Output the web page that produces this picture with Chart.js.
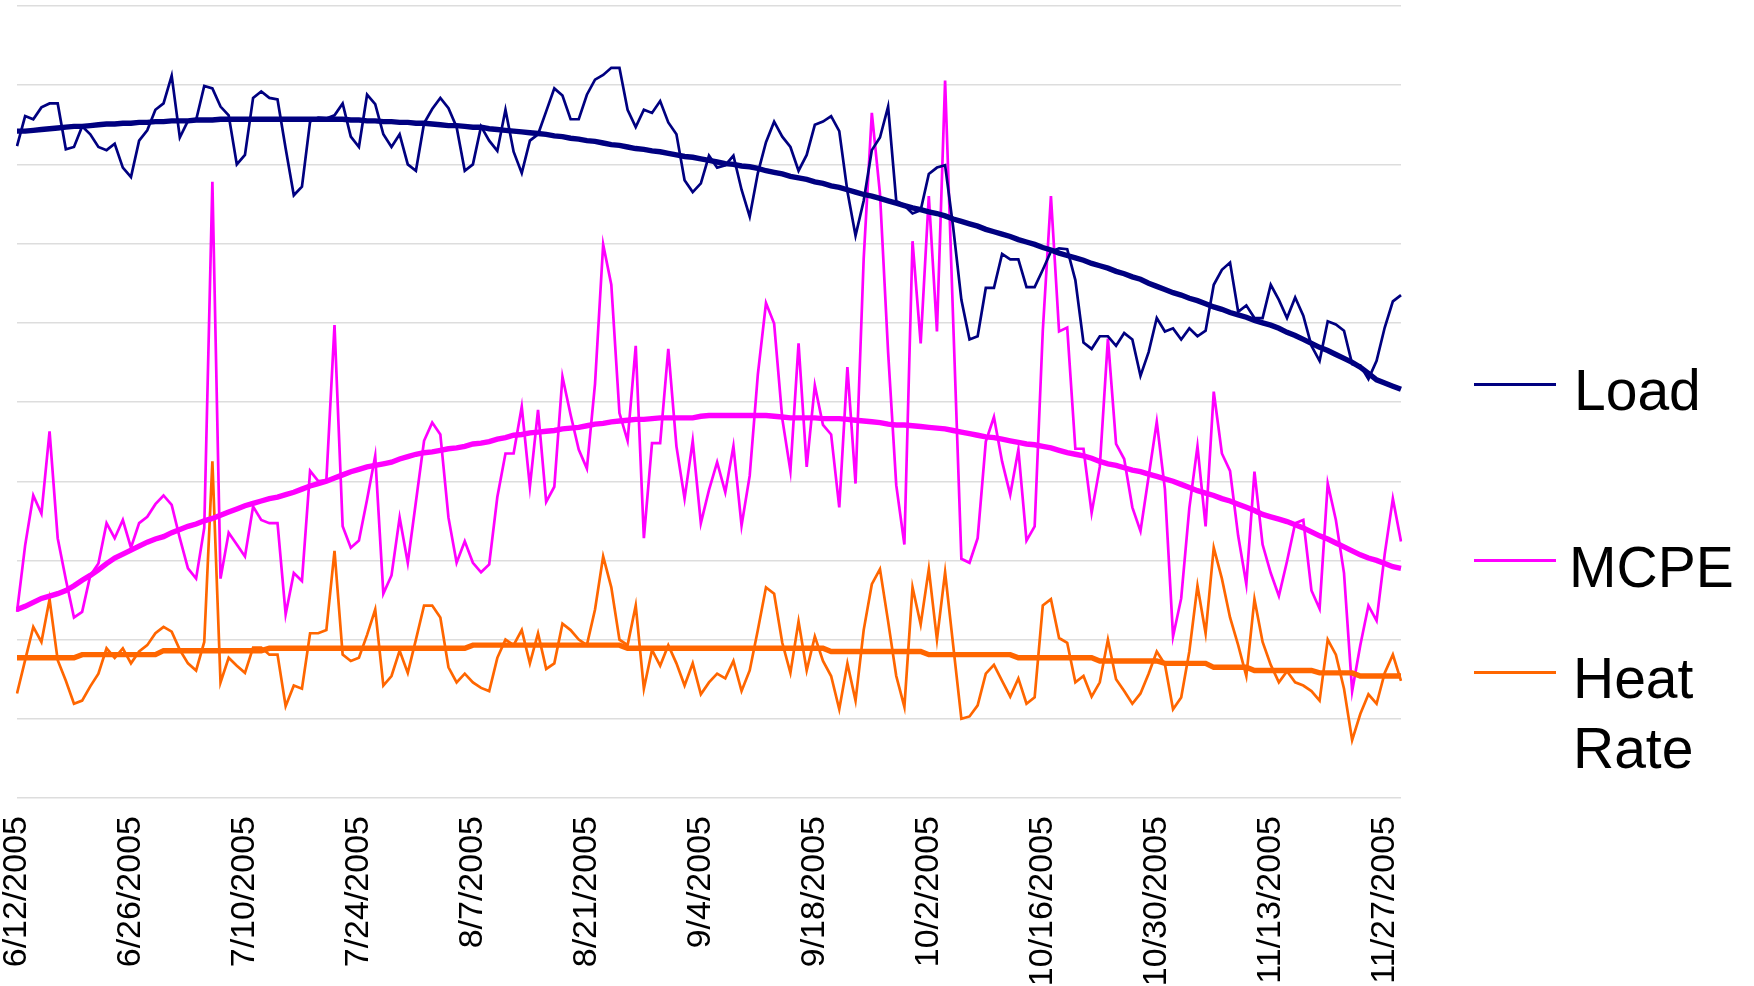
<!DOCTYPE html>
<html>
<head>
<meta charset="utf-8">
<title>Load, MCPE and Heat Rate</title>
<script src="https://cdn.jsdelivr.net/npm/chart.js@4.4.1/dist/chart.umd.min.js"></script>
<style>
  html, body { margin: 0; padding: 0; background: #fff; }
  #wrap { position: relative; width: 1754px; height: 986px; }
  .leg-line { position: absolute; left: 1474px; width: 82px; height: 3px; }
  .leg-text { position: absolute; font-family: 'Liberation Sans', Arial, sans-serif; font-size: 57px; line-height: 70px; color: #000; white-space: nowrap; }
</style>
</head>
<body>
<div id="wrap">
  <canvas id="chart"></canvas>
</div>
<script>
// daily values, 6/12/2005 .. 11/29/2005
const load = [
  8.23, 8.61, 8.57, 8.72, 8.77, 8.77, 8.19, 8.22, 8.48, 8.38,
  8.22, 8.18, 8.26, 7.96, 7.84, 8.30, 8.43, 8.69, 8.77, 9.12,
  8.34, 8.55, 8.56, 8.99, 8.96, 8.73, 8.62, 8.00, 8.12, 8.84,
  8.92, 8.84, 8.82, 8.20, 7.61, 7.72, 8.54, 8.59, 8.58, 8.62,
  8.77, 8.35, 8.22, 8.88, 8.76, 8.38, 8.22, 8.38, 8.00, 7.92,
  8.52, 8.70, 8.84, 8.71, 8.47, 7.92, 8.00, 8.48, 8.30, 8.17,
  8.69, 8.16, 7.89, 8.30, 8.38, 8.67, 8.96, 8.87, 8.57, 8.57,
  8.88, 9.07, 9.13, 9.22, 9.22, 8.69, 8.47, 8.69, 8.65, 8.80,
  8.53, 8.38, 7.80, 7.65, 7.76, 8.11, 7.96, 7.99, 8.11, 7.68,
  7.34, 7.89, 8.28, 8.54, 8.35, 8.22, 7.92, 8.12, 8.50, 8.54,
  8.61, 8.42, 7.66, 7.10, 7.54, 8.18, 8.34, 8.73, 7.54, 7.48,
  7.38, 7.42, 7.88, 7.96, 7.99, 7.20, 6.29, 5.79, 5.83, 6.44,
  6.44, 6.87, 6.80, 6.80, 6.45, 6.45, 6.67, 6.90, 6.94, 6.93,
  6.54, 5.75, 5.67, 5.83, 5.83, 5.71, 5.87, 5.79, 5.33, 5.63,
  6.06, 5.89, 5.93, 5.79, 5.93, 5.83, 5.90, 6.48, 6.67, 6.76,
  6.14, 6.22, 6.06, 6.06, 6.48, 6.29, 6.06, 6.32, 6.09, 5.71,
  5.52, 6.02, 5.98, 5.90, 5.48, 5.46, 5.29, 5.52, 5.94, 6.27,
  6.35
];
const mcpe = [
  2.35, 3.19, 3.82, 3.59, 4.63, 3.28, 2.76, 2.28, 2.35, 2.81,
  2.96, 3.47, 3.28, 3.51, 3.16, 3.47, 3.55, 3.71, 3.82, 3.70,
  3.28, 2.90, 2.77, 3.41, 7.78, 2.77, 3.35, 3.20, 3.05, 3.68,
  3.51, 3.47, 3.47, 2.32, 2.84, 2.74, 4.13, 4.00, 4.01, 5.97,
  3.43, 3.16, 3.25, 3.77, 4.32, 2.58, 2.81, 3.54, 2.97, 3.74,
  4.51, 4.74, 4.59, 3.54, 2.97, 3.24, 2.97, 2.85, 2.95, 3.80,
  4.35, 4.35, 4.94, 3.93, 4.90, 3.74, 3.93, 5.32, 4.84, 4.40,
  4.16, 5.23, 6.99, 6.48, 4.86, 4.51, 5.71, 3.28, 4.48, 4.48,
  5.67, 4.44, 3.78, 4.51, 3.47, 3.89, 4.24, 3.86, 4.44, 3.44,
  4.07, 5.35, 6.25, 5.99, 4.79, 4.13, 5.74, 4.18, 5.21, 4.71,
  4.59, 3.67, 5.44, 3.97, 6.81, 8.65, 7.63, 5.63, 3.95, 3.20,
  7.03, 5.74, 7.60, 5.89, 9.06, 6.00, 3.02, 2.97, 3.28, 4.50,
  4.81, 4.25, 3.83, 4.40, 3.25, 3.43, 5.90, 7.60, 5.89, 5.94,
  4.41, 4.41, 3.60, 4.18, 5.80, 4.47, 4.28, 3.67, 3.37, 4.06,
  4.75, 3.90, 2.04, 2.52, 3.66, 4.44, 3.43, 5.13, 4.35, 4.13,
  3.31, 2.70, 4.12, 3.20, 2.84, 2.55, 2.99, 3.47, 3.51, 2.62,
  2.39, 3.97, 3.51, 2.84, 1.35, 1.93, 2.43, 2.24, 3.08, 3.78,
  3.24
];
const heatRate = [
  1.32, 1.74, 2.16, 1.97, 2.51, 1.74, 1.48, 1.19, 1.23, 1.41,
  1.57, 1.89, 1.77, 1.89, 1.70, 1.85, 1.93, 2.08, 2.16, 2.10,
  1.87, 1.70, 1.61, 1.97, 4.25, 1.46, 1.77, 1.67, 1.58, 1.90,
  1.90, 1.81, 1.81, 1.16, 1.42, 1.38, 2.08, 2.08, 2.12, 3.12,
  1.81, 1.73, 1.77, 2.06, 2.38, 1.42, 1.54, 1.86, 1.58, 2.00,
  2.43, 2.43, 2.28, 1.65, 1.46, 1.57, 1.46, 1.39, 1.35, 1.77,
  2.00, 1.93, 2.12, 1.70, 2.08, 1.63, 1.70, 2.20, 2.12, 2.00,
  1.93, 2.38, 3.05, 2.66, 2.00, 1.93, 2.43, 1.38, 1.87, 1.67,
  1.93, 1.70, 1.42, 1.70, 1.31, 1.46, 1.57, 1.51, 1.73, 1.35,
  1.61, 2.12, 2.66, 2.58, 1.96, 1.58, 2.23, 1.61, 2.04, 1.73,
  1.54, 1.12, 1.70, 1.23, 2.12, 2.70, 2.89, 2.23, 1.54, 1.15,
  2.66, 2.19, 2.89, 2.00, 2.85, 1.92, 1.00, 1.03, 1.17, 1.57,
  1.68, 1.48, 1.28, 1.51, 1.19, 1.27, 2.43, 2.51, 2.02, 1.96,
  1.46, 1.54, 1.28, 1.46, 2.00, 1.50, 1.35, 1.19, 1.32, 1.57,
  1.85, 1.69, 1.12, 1.27, 1.85, 2.68, 2.08, 3.16, 2.77, 2.28,
  1.93, 1.54, 2.51, 1.97, 1.68, 1.46, 1.60, 1.46, 1.42, 1.35,
  1.23, 2.00, 1.81, 1.38, 0.73, 1.06, 1.31, 1.19, 1.58, 1.81,
  1.48
];

// trend lines (thick)
const loadTrend = [
  8.42, 8.42, 8.43, 8.44, 8.45, 8.46, 8.47, 8.48, 8.48, 8.49,
  8.50, 8.51, 8.51, 8.52, 8.52, 8.53, 8.53, 8.54, 8.54, 8.55,
  8.55, 8.55, 8.56, 8.56, 8.56, 8.57, 8.57, 8.57, 8.57, 8.57,
  8.57, 8.57, 8.57, 8.57, 8.57, 8.57, 8.57, 8.57, 8.57, 8.57,
  8.57, 8.56, 8.56, 8.55, 8.55, 8.54, 8.54, 8.53, 8.53, 8.52,
  8.52, 8.51, 8.50, 8.49, 8.49, 8.48, 8.47, 8.47, 8.45, 8.44,
  8.43, 8.42, 8.41, 8.40, 8.39, 8.38, 8.36, 8.35, 8.33, 8.32,
  8.30, 8.29, 8.27, 8.25, 8.24, 8.22, 8.20, 8.19, 8.17, 8.16,
  8.14, 8.12, 8.10, 8.09, 8.07, 8.05, 8.03, 8.01, 8.00, 7.98,
  7.97, 7.95, 7.92, 7.90, 7.88, 7.85, 7.83, 7.81, 7.78, 7.76,
  7.73, 7.71, 7.68, 7.65, 7.62, 7.60, 7.57, 7.54, 7.51, 7.48,
  7.45, 7.43, 7.40, 7.38, 7.35, 7.31, 7.28, 7.25, 7.22, 7.18,
  7.15, 7.12, 7.09, 7.05, 7.02, 6.99, 6.95, 6.92, 6.88, 6.85,
  6.82, 6.79, 6.75, 6.72, 6.69, 6.65, 6.62, 6.58, 6.55, 6.50,
  6.46, 6.42, 6.38, 6.35, 6.31, 6.28, 6.24, 6.20, 6.17, 6.13,
  6.10, 6.07, 6.03, 6.00, 5.97, 5.93, 5.88, 5.84, 5.79, 5.74,
  5.69, 5.65, 5.60, 5.55, 5.50, 5.44, 5.36, 5.28, 5.24, 5.20,
  5.16
];
const mcpeTrend = [
  2.38, 2.42, 2.47, 2.52, 2.55, 2.58, 2.62, 2.68, 2.75, 2.81,
  2.88, 2.96, 3.03, 3.08, 3.13, 3.18, 3.23, 3.27, 3.30, 3.35,
  3.39, 3.43, 3.46, 3.50, 3.53, 3.57, 3.61, 3.65, 3.69, 3.72,
  3.75, 3.78, 3.80, 3.83, 3.86, 3.90, 3.94, 3.97, 4.00, 4.04,
  4.08, 4.12, 4.15, 4.18, 4.20, 4.22, 4.24, 4.28, 4.31, 4.34,
  4.36, 4.37, 4.39, 4.41, 4.42, 4.44, 4.47, 4.48, 4.50, 4.53,
  4.55, 4.58, 4.59, 4.61, 4.62, 4.63, 4.64, 4.66, 4.67, 4.68,
  4.70, 4.72, 4.73, 4.75, 4.76, 4.77, 4.78, 4.78, 4.79, 4.80,
  4.80, 4.80, 4.80, 4.80, 4.82, 4.83, 4.83, 4.83, 4.83, 4.83,
  4.83, 4.83, 4.83, 4.82, 4.81, 4.80, 4.80, 4.80, 4.80, 4.79,
  4.79, 4.79, 4.78, 4.77, 4.76, 4.75, 4.74, 4.72, 4.71, 4.71,
  4.70, 4.69, 4.68, 4.67, 4.66, 4.64, 4.62, 4.60, 4.58, 4.56,
  4.55, 4.53, 4.51, 4.49, 4.47, 4.46, 4.44, 4.42, 4.39, 4.36,
  4.34, 4.32, 4.29, 4.25, 4.22, 4.20, 4.17, 4.14, 4.12, 4.09,
  4.06, 4.03, 4.00, 3.96, 3.92, 3.88, 3.85, 3.82, 3.78, 3.75,
  3.71, 3.67, 3.63, 3.58, 3.55, 3.52, 3.49, 3.45, 3.41, 3.36,
  3.31, 3.27, 3.22, 3.17, 3.12, 3.07, 3.03, 3.00, 2.96, 2.92,
  2.90
];
const heatRateTrend = [
  1.77, 1.77, 1.77, 1.77, 1.77, 1.77, 1.77, 1.77, 1.81, 1.81,
  1.81, 1.81, 1.81, 1.81, 1.81, 1.81, 1.81, 1.81, 1.86, 1.86,
  1.86, 1.86, 1.86, 1.86, 1.86, 1.86, 1.86, 1.86, 1.86, 1.86,
  1.86, 1.89, 1.89, 1.89, 1.89, 1.89, 1.89, 1.89, 1.89, 1.89,
  1.89, 1.89, 1.89, 1.89, 1.89, 1.89, 1.89, 1.89, 1.89, 1.89,
  1.89, 1.89, 1.89, 1.89, 1.89, 1.89, 1.93, 1.93, 1.93, 1.93,
  1.93, 1.93, 1.93, 1.93, 1.93, 1.93, 1.93, 1.93, 1.93, 1.93,
  1.93, 1.93, 1.93, 1.93, 1.93, 1.89, 1.89, 1.89, 1.89, 1.89,
  1.89, 1.89, 1.89, 1.89, 1.89, 1.89, 1.89, 1.89, 1.89, 1.89,
  1.89, 1.89, 1.89, 1.89, 1.89, 1.89, 1.89, 1.89, 1.89, 1.89,
  1.85, 1.85, 1.85, 1.85, 1.85, 1.85, 1.85, 1.85, 1.85, 1.85,
  1.85, 1.85, 1.81, 1.81, 1.81, 1.81, 1.81, 1.81, 1.81, 1.81,
  1.81, 1.81, 1.81, 1.77, 1.77, 1.77, 1.77, 1.77, 1.77, 1.77,
  1.77, 1.77, 1.77, 1.73, 1.73, 1.73, 1.73, 1.73, 1.73, 1.73,
  1.73, 1.70, 1.70, 1.70, 1.70, 1.70, 1.70, 1.65, 1.65, 1.65,
  1.65, 1.65, 1.61, 1.61, 1.61, 1.61, 1.61, 1.61, 1.61, 1.61,
  1.58, 1.58, 1.58, 1.58, 1.58, 1.54, 1.54, 1.54, 1.54, 1.54,
  1.54
];

const tickLabels = ['6/12/2005', '6/26/2005', '7/10/2005', '7/24/2005', '8/7/2005', '8/21/2005',
  '9/4/2005', '9/18/2005', '10/2/2005', '10/16/2005', '10/30/2005', '11/13/2005', '11/27/2005'];

// one category per day starting 6/12/2005
const categories = load.map(function(_, i) {
  const d = new Date(2005, 5, 12 + i);
  return (d.getMonth() + 1) + '/' + d.getDate() + '/' + d.getFullYear();
});

const NAVY = '#000080', MAGENTA = '#ff00ff', ORANGE = '#ff6600';
const FONT = "'Liberation Sans', Arial, sans-serif";

function series(label, data, color, trend) {
  return {
    label: label,
    data: data,
    borderColor: color,
    backgroundColor: color,
    borderWidth: trend ? 5.4 : 2.7,
    pointRadius: 0,
    tension: 0,
    fill: false,
    trend: trend,
    order: trend ? 0 : 1
  };
}

const chart = new Chart(document.getElementById('chart'), {
  type: 'line',
  data: {
    labels: categories,
    datasets: [
      series('Load', load, NAVY, false),
      series('MCPE', mcpe, MAGENTA, false),
      series('Heat Rate', heatRate, ORANGE, false),
      series('Load trend', loadTrend, NAVY, true),
      series('MCPE trend', mcpeTrend, MAGENTA, true),
      series('Heat Rate trend', heatRateTrend, ORANGE, true)
    ]
  },
  options: {
    responsive: true,
    maintainAspectRatio: false,
    animation: false,
    layout: { padding: { left: 17, right: 353, top: 6, bottom: 0 } },
    plugins: {
      legend: { display: false },
      tooltip: { enabled: false }
    },
    scales: {
      x: {
        grid: { display: false },
        border: { display: false },
        ticks: {
          autoSkip: false,
          minRotation: 90,
          maxRotation: 90,
          padding: 10,
          color: '#000',
          font: { family: FONT, size: 34 },
          callback: function(val) {
            const l = this.getLabelForValue(val);
            return tickLabels.includes(l) ? l : '';
          }
        },
        afterFit: function(scale) {
          scale.height = 188;
          scale.paddingLeft = 0;
          scale.paddingRight = 0;
        }
      },
      y: {
        min: 0,
        max: 10,
        ticks: { display: false, stepSize: 1 },
        grid: { color: '#dddddd', lineWidth: 1.4, drawTicks: false },
        border: { display: false },
        afterFit: function(scale) { scale.width = 0; }
      }
    }
  }
});

// legend on the right, built from the thin series
const legendLayout = [
  { lineY: 384, textTop: 355, textLeft: 1574 },
  { lineY: 560, textTop: 532, textLeft: 1569 },
  { lineY: 672, textTop: 643, textLeft: 1573 }
];
const wrap = document.getElementById('wrap');
chart.data.datasets.filter(ds => !ds.trend).forEach(function(ds, i) {
  const pos = legendLayout[i];
  const line = document.createElement('div');
  line.className = 'leg-line';
  line.style.top = (pos.lineY - 1.5) + 'px';
  line.style.background = ds.borderColor;
  wrap.appendChild(line);

  const txt = document.createElement('div');
  txt.className = 'leg-text';
  txt.style.top = pos.textTop + 'px';
  txt.style.left = pos.textLeft + 'px';
  txt.innerHTML = ds.label.split(' ').join('<br>');
  wrap.appendChild(txt);
});
</script>
</body>
</html>
